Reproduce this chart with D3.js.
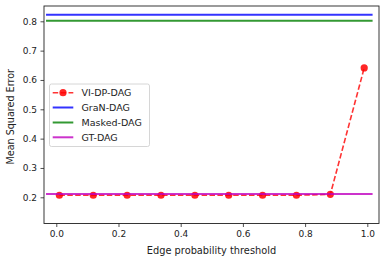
<!DOCTYPE html>
<html><head><meta charset="utf-8">
<script src="https://cdn.jsdelivr.net/npm/d3@7"></script>
<style>body{margin:0;background:#fff}svg{display:block;font-family:"DejaVu Sans",sans-serif}</style>
</head><body>
<svg id="c" width="386" height="262"></svg>
<script>
const thresholds = [0.01, 0.1189, 0.2278, 0.3367, 0.4456, 0.5544, 0.6633, 0.7722, 0.8811, 0.99];
const viDpDag = [0.207, 0.207, 0.207, 0.207, 0.207, 0.207, 0.207, 0.207, 0.210, 0.641];
const granDag = 0.8225;
const maskedDag = 0.802;
const gtDag = 0.211;
const hlineX = [-0.033, 1.017];
const xTicks = [0.0, 0.2, 0.4, 0.6, 0.8, 1.0];
const yTicks = [0.2, 0.3, 0.4, 0.5, 0.6, 0.7, 0.8];
const seriesNames = ["VI-DP-DAG", "GraN-DAG", "Masked-DAG", "GT-DAG"];
const seriesColors = ["#ff0000", "#0000ff", "#008000", "#bf00bf"];

const L = 44, R = 379, T = 6, B = 223.5;
const svg = d3.select("#c");
const x = d3.scaleLinear().domain([-0.0395, 1.0376]).range([L, R]);
const y = d3.scaleLinear().domain([0.2, 0.8]).range([197.3, 21.3]);

const g = svg.append("g");
const line = d3.line().x(d => x(d[0])).y(d => y(d[1]));

// VI-DP-DAG
g.append("path").datum(thresholds.map((t, i) => [t, viDpDag[i]]))
  .attr("d", line).attr("fill", "none").attr("stroke", seriesColors[0])
  .attr("stroke-opacity", 0.8).attr("stroke-width", 1.6).attr("stroke-dasharray", "5.5,2.4");
g.selectAll("circle.p").data(thresholds.map((t, i) => [t, viDpDag[i]])).enter()
  .append("circle").attr("cx", d => x(d[0])).attr("cy", d => y(d[1])).attr("r", 3.6)
  .attr("fill", seriesColors[0]).attr("fill-opacity", 0.85);

[[granDag, 1], [maskedDag, 2], [gtDag, 3]].forEach(([v, i]) => {
  g.append("path").datum(hlineX.map(t => [t, v])).attr("d", line)
    .attr("fill", "none").attr("stroke", seriesColors[i]).attr("stroke-opacity", 0.8)
    .attr("stroke-width", 2);
});

// axes
const xa = svg.append("g").attr("transform", `translate(0,${B})`)
  .call(d3.axisBottom(x).tickValues(xTicks).tickFormat(d3.format(".1f")).tickSizeOuter(0).tickSize(3.5).tickPadding(3.5));
const ya = svg.append("g").attr("transform", `translate(${L},0)`)
  .call(d3.axisLeft(y).tickValues(yTicks).tickFormat(d3.format(".1f")).tickSizeOuter(0).tickSize(3.5).tickPadding(3.5));
[xa, ya].forEach(a => {
  a.select(".domain").remove();
  a.selectAll("text").attr("font-size", 9).attr("fill", "#222").attr("font-family", "DejaVu Sans");
  a.selectAll("line").attr("stroke", "#222").attr("stroke-width", 0.8);
});
svg.append("rect").attr("x", L).attr("y", T).attr("width", R - L).attr("height", B - T)
  .attr("fill", "none").attr("stroke", "#222").attr("stroke-width", 0.9);

svg.append("text").attr("x", (L + R) / 2).attr("y", 254).attr("text-anchor", "middle")
  .attr("font-size", 9.8).attr("fill", "#222").text("Edge probability threshold");
svg.append("text").attr("transform", `translate(14,${(T + B) / 2 + 2}) rotate(-90)`)
  .attr("text-anchor", "middle").attr("font-size", 9.6).attr("fill", "#222").text("Mean Squared Error");

// legend
const lg = svg.append("g");
lg.append("rect").attr("x", 49.5).attr("y", 84).attr("width", 100).attr("height", 62.5)
  .attr("rx", 2).attr("fill", "#fff").attr("fill-opacity", 0.8).attr("stroke", "#ccc").attr("stroke-width", 0.8);
const ly = [92.7, 107.5, 122.5, 137.3];
seriesNames.forEach((n, i) => {
  const row = lg.append("g");
  row.append("line").attr("x1", 52.7).attr("x2", 73.3).attr("y1", ly[i]).attr("y2", ly[i])
    .attr("stroke", seriesColors[i]).attr("stroke-opacity", 0.8)
    .attr("stroke-width", i === 0 ? 1.6 : 2).attr("stroke-dasharray", i === 0 ? "5.5,2.4" : null);
  if (i === 0) row.append("circle").attr("cx", 63).attr("cy", ly[i]).attr("r", 3.6)
    .attr("fill", seriesColors[0]).attr("fill-opacity", 0.85);
  row.append("text").attr("x", 81.5).attr("y", ly[i]).attr("dy", "0.35em")
    .attr("font-size", 9.5).attr("fill", "#222").text(n);
});
</script>
</body></html>
